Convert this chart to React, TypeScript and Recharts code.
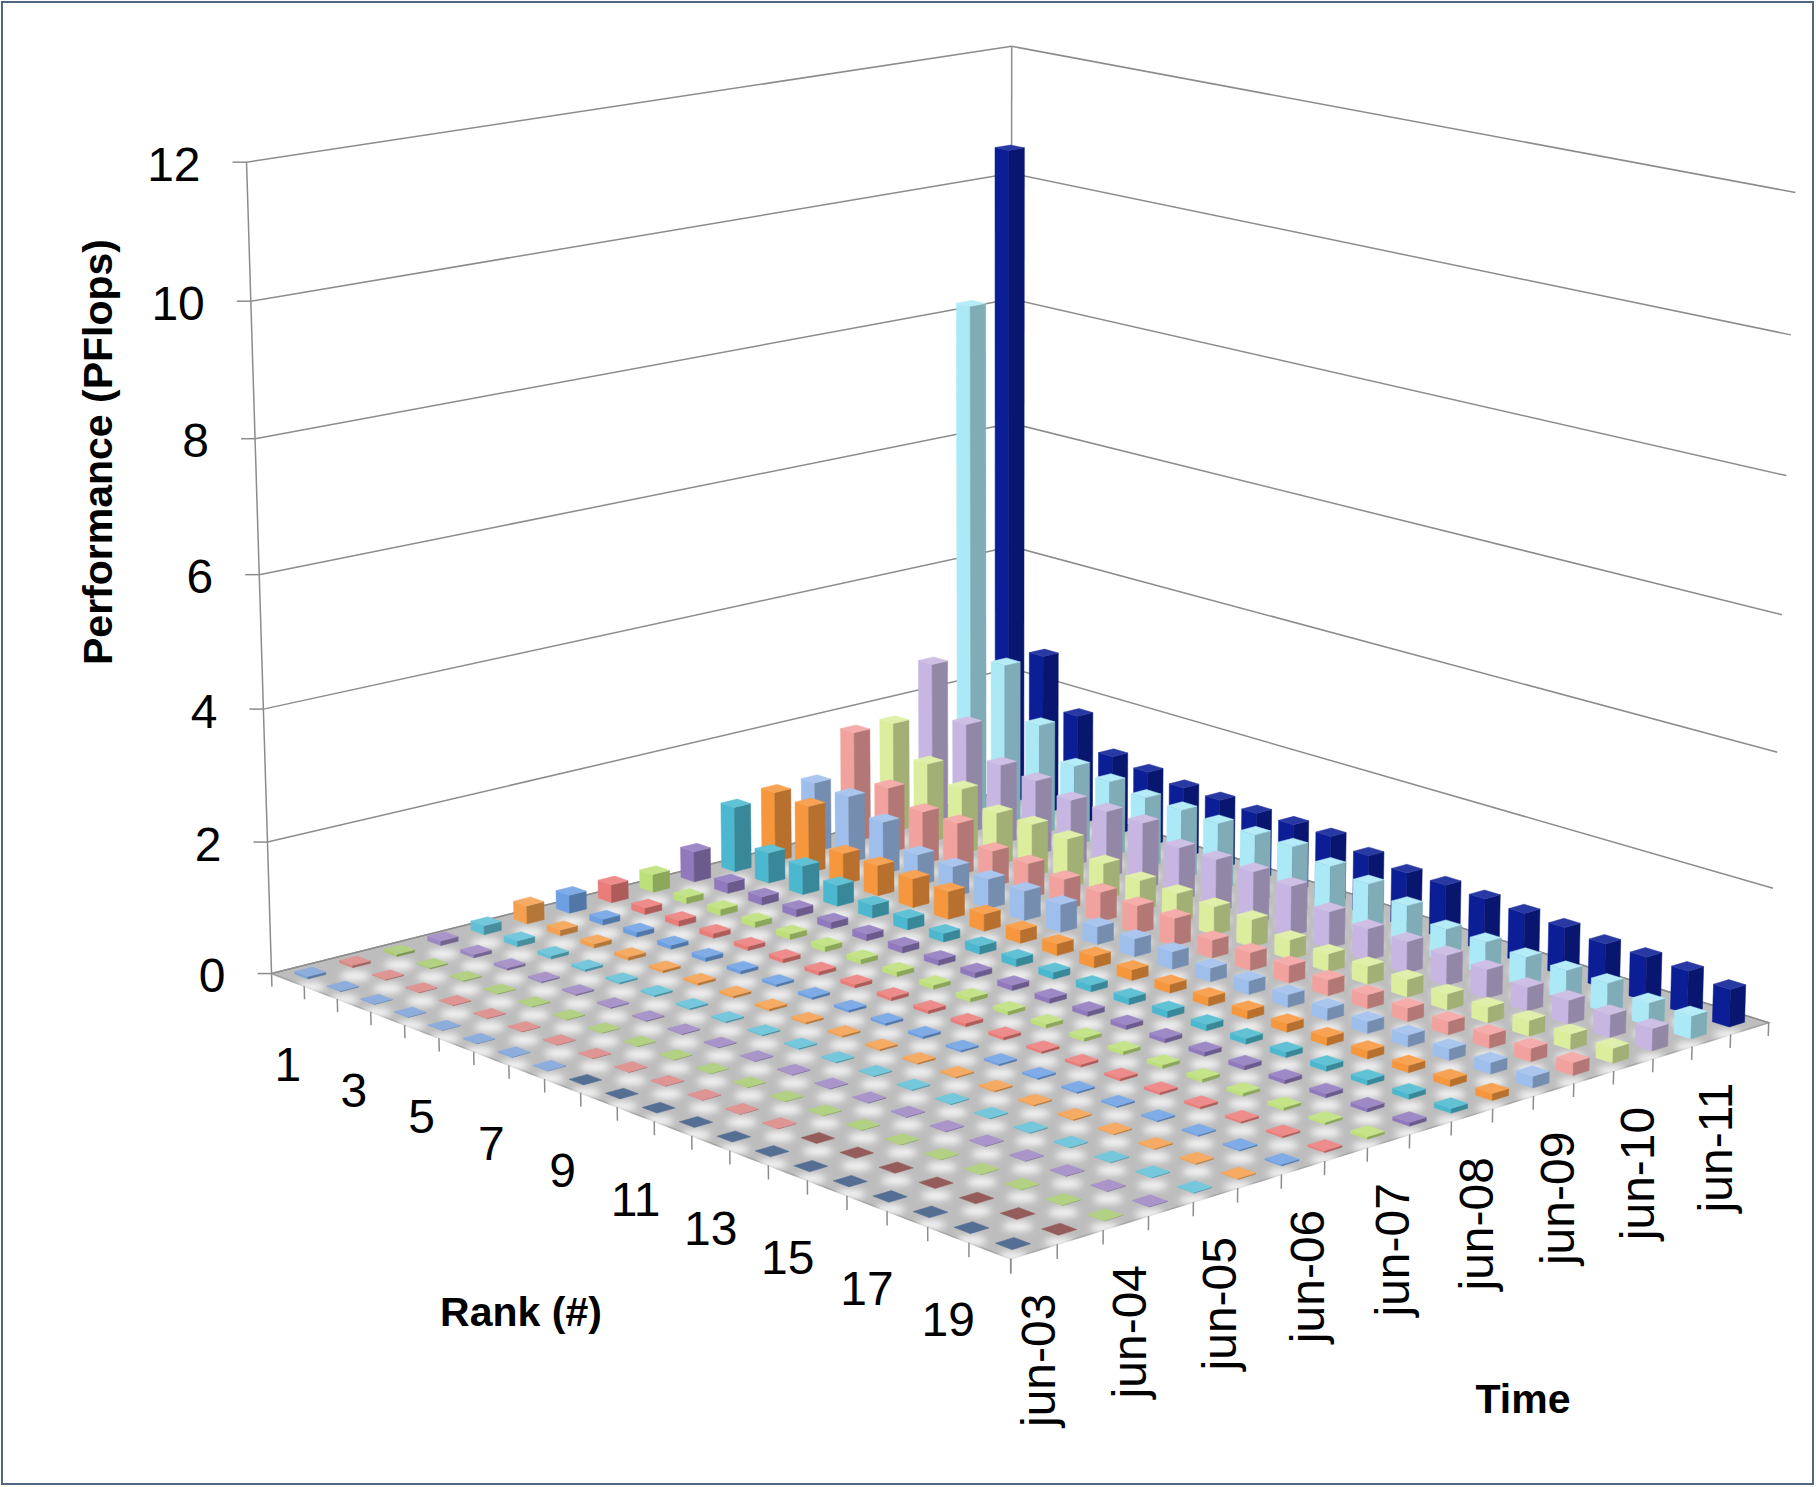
import React from 'react';
import { ScatterChart, Scatter, XAxis, YAxis } from 'recharts';

const W = 1816;
const H = 1487;
const FONT = "'Liberation Sans', Arial, sans-serif";

// categories
const times = [
  'jun-03', 'nov-03', 'jun-04', 'nov-04', 'jun-05', 'nov-05', 'jun-06', 'nov-06', 'jun-07',
  'nov-07', 'jun-08', 'nov-08', 'jun-09', 'nov-09', 'jun-10', 'nov-10', 'jun-11', 'nov-11',
];
const ranks = [1, 2, 3, 4, 5, 6, 7, 8, 9, 10, 11, 12, 13, 14, 15, 16, 17, 18, 19, 20];
const valueTicks = [0, 2, 4, 6, 8, 10, 12];

// performance (PFlops) of rank 1..20 in each list (0 = rounds to 0.00)
const jun03 = [0.036, 0.014, 0.008, 0.007, 0.007, 0.007, 0.006, 0.006, 0, 0, 0, 0, 0, 0, 0, 0, 0, 0, 0, 0];
const nov03 = [0.036, 0.014, 0.010, 0.010, 0.009, 0.008, 0.008, 0.007, 0.007, 0.007, 0.006, 0.006, 0.006, 0, 0, 0, 0, 0, 0, 0];
const jun04 = [0.036, 0.020, 0.014, 0.010, 0.010, 0.009, 0.009, 0.008, 0.008, 0.007, 0.007, 0.007, 0.006, 0.006, 0.006, 0.005, 0.005, 0.005, 0.005, 0.005];
const nov04 = [0.071, 0.052, 0.036, 0.021, 0.020, 0.016, 0.014, 0.012, 0.012, 0.010, 0.010, 0.010, 0.010, 0.009, 0.009, 0.008, 0.008, 0.007, 0.007, 0.007];
const jun05 = [0.137, 0.091, 0.052, 0.036, 0.028, 0.027, 0.025, 0.021, 0.020, 0.018, 0.016, 0.014, 0.014, 0.013, 0.013, 0.012, 0.012, 0.011, 0.010, 0.010];
const nov05 = [0.281, 0.091, 0.063, 0.052, 0.038, 0.038, 0.036, 0.036, 0.028, 0.027, 0.025, 0.023, 0.021, 0.020, 0.019, 0.018, 0.017, 0.016, 0.015, 0.014];
const jun06 = [0.281, 0.091, 0.076, 0.063, 0.063, 0.052, 0.038, 0.038, 0.037, 0.036, 0.036, 0.028, 0.027, 0.027, 0.025, 0.023, 0.021, 0.020, 0.019, 0.019];
const nov06 = [0.281, 0.101, 0.091, 0.076, 0.063, 0.063, 0.058, 0.054, 0.053, 0.053, 0.052, 0.046, 0.038, 0.038, 0.037, 0.036, 0.036, 0.030, 0.028, 0.027];
const jun07 = [0.281, 0.102, 0.101, 0.091, 0.085, 0.082, 0.076, 0.073, 0.063, 0.063, 0.058, 0.057, 0.054, 0.053, 0.053, 0.052, 0.046, 0.042, 0.038, 0.038];
const nov07 = [0.478, 0.167, 0.127, 0.118, 0.103, 0.102, 0.102, 0.085, 0.082, 0.080, 0.076, 0.073, 0.067, 0.064, 0.063, 0.063, 0.058, 0.057, 0.054, 0.053];
const jun08 = [1.026, 0.478, 0.450, 0.326, 0.205, 0.180, 0.133, 0.127, 0.122, 0.106, 0.103, 0.102, 0.102, 0.094, 0.085, 0.082, 0.080, 0.076, 0.073, 0.069];
const nov08 = [1.105, 1.059, 0.487, 0.478, 0.450, 0.433, 0.266, 0.205, 0.181, 0.180, 0.163, 0.133, 0.133, 0.127, 0.127, 0.122, 0.121, 0.106, 0.103, 0.102];
const jun09 = [1.105, 1.059, 0.826, 0.487, 0.478, 0.463, 0.459, 0.433, 0.275, 0.275, 0.266, 0.208, 0.205, 0.191, 0.181, 0.180, 0.175, 0.170, 0.170, 0.170];
const nov09 = [1.759, 1.042, 0.832, 0.826, 0.563, 0.544, 0.478, 0.459, 0.433, 0.424, 0.275, 0.273, 0.266, 0.241, 0.208, 0.205, 0.200, 0.200, 0.200, 0.190];
const jun10 = [1.759, 1.271, 1.042, 0.832, 0.826, 0.773, 0.563, 0.478, 0.459, 0.434, 0.424, 0.300, 0.275, 0.273, 0.266, 0.241, 0.237, 0.235, 0.230, 0.220];
const nov10 = [2.566, 1.759, 1.271, 1.192, 1.054, 1.050, 1.042, 0.832, 0.826, 0.817, 0.773, 0.563, 0.487, 0.478, 0.459, 0.434, 0.360, 0.360, 0.340, 0.330];
const jun11 = [8.162, 2.566, 1.759, 1.271, 1.192, 1.110, 1.088, 1.054, 1.050, 1.042, 0.919, 0.826, 0.674, 0.500, 0.490, 0.450, 0.440, 0.440, 0.340, 0.340];
const nov11 = [10.51, 2.566, 1.759, 1.271, 1.192, 1.110, 1.088, 1.054, 1.050, 1.042, 0.919, 0.831, 0.826, 0.795, 0.760, 0.730, 0.670, 0.660, 0.640, 0.560];

const series = [jun03, nov03, jun04, nov04, jun05, nov05, jun06, nov06, jun07, nov07, jun08, nov08, jun09, nov09, jun10, nov10, jun11, nov11];

const seriesColors = [
  '#7da2d8', '#d98785', '#a9cb72', '#9d87c2', '#62c0d6', '#f4a04e',
  '#6d9fe3', '#ea7c7a', '#bde07a', '#9079bd', '#4cb8cf', '#f7973d',
  '#9ebeec', '#f2a29e', '#dcee9e', '#c7b6e1', '#ace9f6', '#0b1e96',
];

// camera calibration: [time edge, rank edge, value, screen x, screen y]
const CALIB = [
  [0, 0, 0, 272, 973], [0, 20, 0, 1010, 1260], [18, 20, 0, 1768, 1022], [18, 0, 0, 1012, 791],
  [0, 0, 12, 247, 162], [18, 0, 12, 1012, 47], [18, 20, 12, 1796, 193],
  [0, 0, 2, 267, 842], [0, 0, 6, 260, 574], [0, 0, 10, 250, 302],
  [0, 10, 0, 617, 1107], [5, 20, 0, 1238, 1188], [12, 20, 0, 1534, 1095],
  [18, 0, 10, 1011, 174], [18, 0, 8, 1011, 296], [18, 20, 10, 1791, 335],
];

const NT = times.length;
const NR = ranks.length;
const ZMAX = 12;
const HALF = 0.2; // half bar width, in cells

function solveLinear(A: number[][], b: number[]) {
  const n = b.length;
  const M = A.map((row, i) => [...row, b[i]]);
  for (let c = 0; c < n; c++) {
    let p = c;
    for (let i = c + 1; i < n; i++) if (Math.abs(M[i][c]) > Math.abs(M[p][c])) p = i;
    [M[c], M[p]] = [M[p], M[c]];
    for (let i = c + 1; i < n; i++) {
      const f = M[i][c] / M[c][c];
      for (let j = c; j <= n; j++) M[i][j] -= f * M[c][j];
    }
  }
  const x = new Array(n).fill(0);
  for (let i = n - 1; i >= 0; i--) {
    let s = M[i][n];
    for (let j = i + 1; j < n; j++) s -= M[i][j] * x[j];
    x[i] = s / M[i][i];
  }
  return x;
}

function fitCamera() {
  const rows: number[][] = [];
  const rhs: number[] = [];
  for (const [t, r, z, u0, v0] of CALIB) {
    const X = t / NT, Y = r / NR, Z = z / ZMAX, u = u0 / 1000, v = v0 / 1000;
    rows.push([X, Y, Z, 1, 0, 0, 0, 0, -u * X, -u * Y, -u * Z]);
    rhs.push(u);
    rows.push([0, 0, 0, 0, X, Y, Z, 1, -v * X, -v * Y, -v * Z]);
    rhs.push(v);
  }
  const AtA = Array.from({ length: 11 }, (_, i) =>
    Array.from({ length: 11 }, (_, j) => rows.reduce((s, row) => s + row[i] * row[j], 0)));
  const Atb = Array.from({ length: 11 }, (_, i) => rows.reduce((s, row, k) => s + row[i] * rhs[k], 0));
  return solveLinear(AtA, Atb);
}

const P = fitCamera();

function project(t: number, r: number, z: number) {
  const X = t / NT, Y = r / NR, Z = z / ZMAX;
  const w = P[8] * X + P[9] * Y + P[10] * Z + 1;
  return {
    x: (1000 * (P[0] * X + P[1] * Y + P[2] * Z + P[3])) / w,
    y: (1000 * (P[4] * X + P[5] * Y + P[6] * Z + P[7])) / w,
  };
}

function rgb(hex: string) {
  const n = parseInt(hex.slice(1), 16);
  return [(n >> 16) & 255, (n >> 8) & 255, n & 255];
}
function shade(hex: string, k: number) {
  const c = rgb(hex).map((v) => Math.max(0, Math.min(255, Math.round(v * k))));
  return `rgb(${c[0]},${c[1]},${c[2]})`;
}
function tint(hex: string, k: number) {
  const c = rgb(hex).map((v) => Math.round(v + (255 - v) * k));
  return `rgb(${c[0]},${c[1]},${c[2]})`;
}

// ---------- layers ----------
const floorAnchor = project(0, 0, 0);
const floorData = [{ sx: floorAnchor.x, sy: floorAnchor.y }];

const barData = series
  .flatMap((vals, t) =>
    vals.map((v, r) => {
      const p = project(t + 0.5, r + 0.5, 0);
      return { sx: p.x, sy: p.y, t, r, v };
    }))
  .sort((a, b) => a.r - a.t - (b.r - b.t) || a.t - b.t);

type Seg = { sx: number; sy: number; x2: number; y2: number; stroke: string; w: number };
const segs: Seg[] = [];
const seg = (a: { x: number; y: number }, b: { x: number; y: number }, stroke = '#8c8c8c', w = 1.5) =>
  segs.push({ sx: a.x, sy: a.y, x2: b.x, y2: b.y, stroke, w });

valueTicks.forEach((z) => {
  seg(project(0, 0, z), project(NT, 0, z)); // left wall
  seg(project(NT, 0, z), project(NT, NR, z)); // right wall
  const p = project(0, 0, z);
  seg({ x: p.x - 14, y: p.y }, p);
});
seg(project(0, 0, 0), project(0, 0, ZMAX));
seg(project(NT, 0, 0), project(NT, 0, ZMAX));
for (let r = 0; r <= NR; r++) seg(project(0, r, 0), project(0, r, -0.2));
for (let t = 0; t <= NT; t++) seg(project(t, NR, 0), project(t, NR, -0.2));

type Lab = { sx: number; sy: number; text: string; anchor: string; rot: boolean; size: number; bold: boolean };
const labels: Lab[] = [];
valueTicks.forEach((z) => {
  const p = project(0, 0, z);
  labels.push({ sx: p.x - 46, sy: p.y + 2, text: String(z), anchor: 'end', rot: false, size: 48, bold: false });
});
ranks.forEach((rk, i) => {
  if (rk % 2 === 0) return;
  const p = project(0, i + 0.5, 0);
  labels.push({ sx: p.x, sy: p.y + 85, text: String(rk), anchor: 'middle', rot: false, size: 48, bold: false });
});
times.forEach((tm, i) => {
  if (!tm.startsWith('jun')) return;
  const p = project(i + 0.5, NR, 0);
  labels.push({ sx: p.x + 4, sy: p.y + 42, text: tm, anchor: 'end', rot: true, size: 48, bold: false });
});
labels.push({ sx: 98, sy: 452, text: 'Performance (PFlops)', anchor: 'middle', rot: true, size: 41, bold: true });
labels.push({ sx: 521, sy: 1312, text: 'Rank (#)', anchor: 'middle', rot: false, size: 41, bold: true });
labels.push({ sx: 1523, sy: 1399, text: 'Time', anchor: 'middle', rot: false, size: 41, bold: true });

// ---------- shapes ----------
const FloorShape = (props: any) => {
  const { cx, cy, payload } = props;
  const dx = cx - payload.sx, dy = cy - payload.sy;
  const pts = [project(0, 0, 0), project(NT, 0, 0), project(NT, NR, 0), project(0, NR, 0)]
    .map((q) => `${q.x + dx},${q.y + dy}`)
    .join(' ');
  const spots: React.ReactElement[] = [];
  for (let t = 0; t < NT; t++) {
    for (let r = 0; r < NR; r++) {
      const q = project(t + 0.5, r + 0.5, 0);
      spots.push(<ellipse key={`${t}-${r}`} cx={q.x + dx} cy={q.y + dy + 13} rx={15} ry={5} fill="#ffffff" />);
    }
  }
  return (
    <g>
      <defs>
        <filter id="spotBlur" x="-50%" y="-50%" width="200%" height="200%">
          <feGaussianBlur stdDeviation="3.5" />
        </filter>
      </defs>
      <polygon points={pts} fill="#bdbdbd" stroke="#a3a3a3" strokeWidth={1.5} />
      <g filter="url(#spotBlur)" opacity={0.85}>{spots}</g>
    </g>
  );
};

const LineShape = (props: any) => {
  const { cx, cy, payload } = props;
  return (
    <line x1={cx} y1={cy} x2={cx + payload.x2 - payload.sx} y2={cy + payload.y2 - payload.sy}
      stroke={payload.stroke} strokeWidth={payload.w} />
  );
};

const BarShape = (props: any) => {
  const { cx, cy, payload } = props;
  const { t, r, v, sx, sy } = payload;
  const dx = cx - sx, dy = cy - sy;
  const pt = (a: number, b: number, c: number) => {
    const q = project(a, b, c);
    return `${(q.x + dx).toFixed(2)},${(q.y + dy).toFixed(2)}`;
  };
  const t0 = t + 0.5 - HALF, t1 = t + 0.5 + HALF, r0 = r + 0.5 - HALF, r1 = r + 0.5 + HALF;
  const base = seriesColors[t];
  const top = [pt(t0, r0, v), pt(t1, r0, v), pt(t1, r1, v), pt(t0, r1, v)].join(' ');
  if (v === 0) {
    const dark = shade(base, 0.68);
    return <polygon points={top} fill={dark} stroke={dark} strokeWidth={0.5} />;
  }
  const left = [pt(t0, r0, 0), pt(t0, r1, 0), pt(t0, r1, v), pt(t0, r0, v)].join(' ');
  const right = [pt(t0, r1, 0), pt(t1, r1, 0), pt(t1, r1, v), pt(t0, r1, v)].join(' ');
  const cTop = tint(base, 0.12);
  const cRight = shade(base, 0.74);
  return (
    <g>
      <polygon points={left} fill={base} stroke={base} strokeWidth={0.5} />
      <polygon points={right} fill={cRight} stroke={cRight} strokeWidth={0.5} />
      <polygon points={top} fill={cTop} stroke={cTop} strokeWidth={0.5} />
    </g>
  );
};

const LabelShape = (props: any) => {
  const { cx, cy, payload } = props;
  return (
    <text x={cx} y={cy} textAnchor={payload.anchor} dominantBaseline="central"
      transform={payload.rot ? `rotate(-90 ${cx} ${cy})` : undefined}
      fontFamily={FONT} fontSize={payload.size} fontWeight={payload.bold ? 700 : 400} fill="#000000">
      {payload.text}
    </text>
  );
};

export default function App() {
  return (
    <div style={{ position: 'absolute', left: 0, top: 0, width: W, height: H, background: '#ffffff' }}>
      <ScatterChart width={W} height={H} margin={{ top: 0, right: 0, bottom: 0, left: 0 }}>
        <XAxis type="number" dataKey="sx" domain={[0, W]} hide allowDataOverflow />
        <YAxis type="number" dataKey="sy" domain={[0, H]} reversed hide allowDataOverflow />
        <Scatter data={floorData} shape={FloorShape} isAnimationActive={false} />
        <Scatter data={segs} shape={LineShape} isAnimationActive={false} />
        <Scatter data={barData} shape={BarShape} isAnimationActive={false} />
        <Scatter data={labels} shape={LabelShape} isAnimationActive={false} />
      </ScatterChart>
      <div style={{ position: 'absolute', left: 1, top: 1, width: W - 3, height: H - 3, boxSizing: 'border-box',
        border: '2px solid #51667f', pointerEvents: 'none' }} />
    </div>
  );
}
